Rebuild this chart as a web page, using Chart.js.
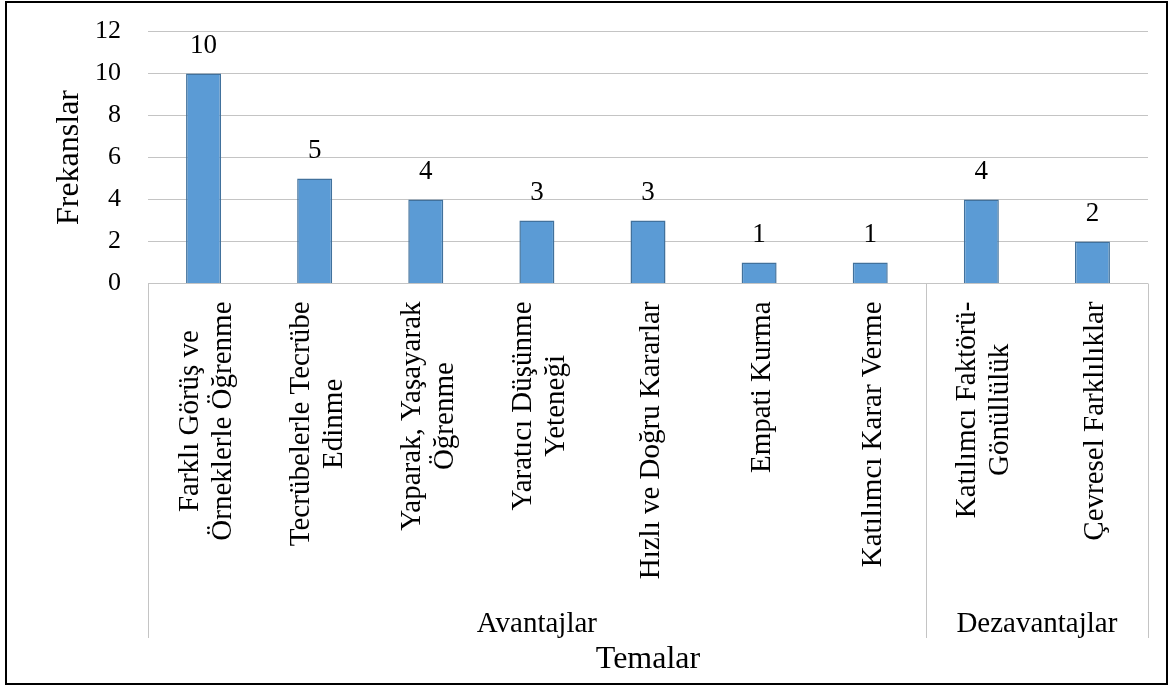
<!DOCTYPE html>
<html>
<head>
<meta charset="utf-8">
<script src="https://cdn.jsdelivr.net/npm/chart.js@4.4.1/dist/chart.umd.min.js"></script>
<style>
  html, body { margin: 0; padding: 0; background: #fff; }
  #wrap { position: relative; width: 1171px; height: 688px; }
</style>
</head>
<body>
<div id="wrap"><canvas id="myBarChart"></canvas></div>
<script>
var temalar = [
  ["Farklı Görüş ve", "Örneklerle Öğrenme"],
  ["Tecrübelerle Tecrübe", "Edinme"],
  ["Yaparak, Yaşayarak", "Öğrenme"],
  ["Yaratıcı Düşünme", "Yeteneği"],
  ["Hızlı ve Doğru Kararlar"],
  ["Empati Kurma"],
  ["Katılımcı Karar Verme"],
  ["Katılımcı Faktörü-", "Gönüllülük"],
  ["Çevresel Farklılıklar"]
];
var frekanslar = [10, 5, 4, 3, 3, 1, 1, 4, 2];
var gruplar = ["Avantajlar", "Dezavantajlar"];
var grupSayilari = [7, 2];
var yEksenBasligi = "Frekanslar";
var xEksenBasligi = "Temalar";

var serif = '"Liberation Serif", "Times New Roman", serif';
var gridColor = "#c4c4c4";

// labels, group separators, titles and the frame are drawn here
var extras = {
  id: "extras",
  afterDraw: function(chart) {
    var ctx = chart.ctx;
    var area = chart.chartArea;
    var x = chart.scales.x;
    var meta = chart.getDatasetMeta(0);
    ctx.save();
    ctx.fillStyle = "#000";

    // value labels above the bars
    ctx.font = "27px " + serif;
    ctx.textAlign = "center";
    ctx.textBaseline = "alphabetic";
    meta.data.forEach(function(bar, i) {
      ctx.fillText(String(frekanslar[i]), bar.x, bar.y - 21);
    });

    // rotated category labels
    ctx.font = "29px " + serif;
    temalar.forEach(function(lines, i) {
      var cx = x.getPixelForValue(i);
      var maxW = 0;
      lines.forEach(function(t) { maxW = Math.max(maxW, ctx.measureText(t).width); });
      var midY = area.bottom + 18 + maxW / 2;
      lines.forEach(function(t, j) {
        var bx = cx + 10.5 + (j - (lines.length - 1) / 2) * 33;
        ctx.save();
        ctx.translate(bx, midY);
        ctx.rotate(-Math.PI / 2);
        ctx.textAlign = "center";
        ctx.fillText(t, 0, 0);
        ctx.restore();
      });
    });

    // group separators and group names
    var sepBottom = 638;
    var edges = [area.left];
    var idx = 0;
    grupSayilari.forEach(function(n) {
      idx += n;
      if (idx >= temalar.length) edges.push(area.right);
      else edges.push((x.getPixelForValue(idx - 1) + x.getPixelForValue(idx)) / 2);
    });
    ctx.strokeStyle = gridColor;
    ctx.lineWidth = 1;
    edges.forEach(function(ex) {
      var px = Math.round(ex) + 0.5;
      ctx.beginPath();
      ctx.moveTo(px, area.bottom);
      ctx.lineTo(px, sepBottom);
      ctx.stroke();
    });
    ctx.textAlign = "center";
    gruplar.forEach(function(g, i) {
      ctx.fillText(g, (edges[i] + edges[i + 1]) / 2, 632);
    });

    // axis titles
    ctx.font = "32px " + serif;
    ctx.fillText(xEksenBasligi, (area.left + area.right) / 2, 668);
    ctx.save();
    ctx.translate(78, (area.top + area.bottom) / 2);
    ctx.rotate(-Math.PI / 2);
    ctx.fillText(yEksenBasligi, 0, 0);
    ctx.restore();

    // outer frame
    ctx.strokeStyle = "#000";
    ctx.lineWidth = 2;
    ctx.strokeRect(6, 2, 1161, 682);
    ctx.restore();
  }
};

var ctx = document.getElementById("myBarChart");
var myBarChart = new Chart(ctx, {
  type: "bar",
  data: {
    labels: temalar,
    datasets: [{
      label: yEksenBasligi,
      data: frekanslar,
      backgroundColor: "#5b9bd5",
      borderColor: "#41719c",
      borderWidth: 1.5,
      categoryPercentage: 1,
      barPercentage: 0.315
    }]
  },
  options: {
    responsive: true,
    maintainAspectRatio: false,
    animation: false,
    layout: {
      padding: { left: 0, right: 23, top: 31.5, bottom: 0 }
    },
    scales: {
      x: {
        grid: { display: false },
        border: { display: false },
        ticks: { display: false },
        afterFit: function(scale) { scale.height = 404.5; }
      },
      y: {
        min: 0,
        max: 12,
        ticks: {
          stepSize: 2,
          padding: 27,
          color: "#000",
          font: { family: serif, size: 26 }
        },
        grid: { color: gridColor, drawTicks: false },
        border: { display: false },
        afterFit: function(scale) {
          scale.width = 148;
          scale.paddingTop = 0;
          scale.paddingBottom = 0;
        }
      }
    },
    plugins: {
      legend: { display: false },
      tooltip: { enabled: false }
    }
  },
  plugins: [extras]
});
</script>
</body>
</html>
